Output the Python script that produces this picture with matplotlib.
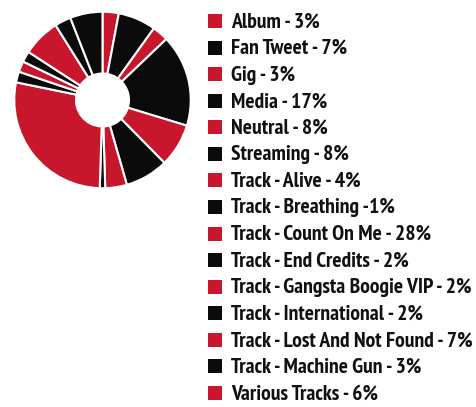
import matplotlib
matplotlib.use("Agg")
import matplotlib.pyplot as plt
from matplotlib.patches import Rectangle

RED = "#c8172d"
BLACK = "#0b0b0b"

categories = ["Album", "Fan Tweet", "Gig", "Media", "Neutral", "Streaming",
              "Track - Alive", "Track - Breathing", "Track - Count On Me",
              "Track - End Credits", "Track - Gangsta Boogie VIP",
              "Track - International", "Track - Lost And Not Found",
              "Track - Machine Gun", "Various Tracks"]
shares = [3, 7, 3, 17, 8, 8, 4, 1, 28, 2, 2, 2, 7, 3, 6]
labels = ["Album - 3%", "Fan Tweet - 7%", "Gig - 3%", "Media - 17%",
          "Neutral - 8%", "Streaming - 8%", "Track - Alive - 4%",
          "Track - Breathing -1%", "Track - Count On Me - 28%",
          "Track - End Credits - 2%", "Track - Gangsta Boogie VIP - 2%",
          "Track - International - 2%", "Track - Lost And Not Found - 7%",
          "Track - Machine Gun - 3%", "Various Tracks - 6%"]
legend_colors = [RED if i % 2 == 0 else BLACK for i in range(len(categories))]
# the last slice is drawn black in the chart itself
wedge_colors = legend_colors[:-1] + [BLACK]

W, H = 477, 407
fig = plt.figure(figsize=(W / 100, H / 100), dpi=100)
fam = ["PT Sans Narrow", "DejaVu Sans"]

# donut
ax = fig.add_axes([12.5 / W, (H - 190) / H, 180 / W, 180 / H])
ax.pie(shares, colors=wedge_colors, startangle=90, counterclock=False,
       radius=1.0, wedgeprops=dict(width=0.7, edgecolor="white", linewidth=1.5))
ax.set_xlim(-1.02, 1.02)
ax.set_ylim(-1.02, 1.02)
ax.axis("off")

# legend
lax = fig.add_axes([0, 0, 1, 1])
lax.set_xlim(0, W)
lax.set_ylim(H, 0)
lax.axis("off")
y0, step = 21, 26.57
for i, (lab, col) in enumerate(zip(labels, legend_colors)):
    y = y0 + i * step
    lax.add_patch(Rectangle((208.5, y - 7), 14, 14, facecolor=col, edgecolor="none"))
    lax.text(231, y + 1, lab, fontsize=15.6, fontweight="bold", family=fam,
             va="center", ha="left", color="#111111")

fig.savefig("out.png", dpi=100)
